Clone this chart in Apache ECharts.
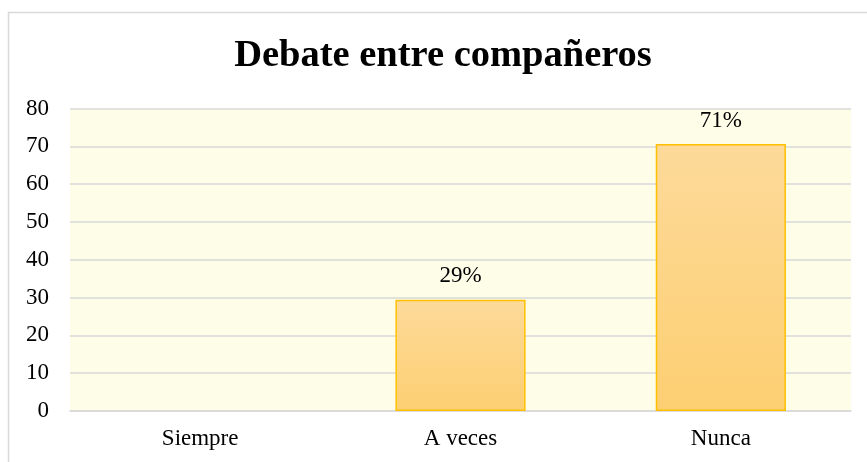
<!DOCTYPE html>
<html>
<head>
<meta charset="utf-8">
<script src="https://cdn.jsdelivr.net/npm/echarts@6/dist/echarts.min.js"></script>
<style>
  html, body { margin: 0; padding: 0; background: #fff; }
  #chart { width: 867px; height: 462px; }
</style>
</head>
<body>
<div id="chart"></div>
<script>
const titleText = 'Debate entre compañeros';
const categories = ['Siempre', 'A veces', 'Nunca'];
const values = [0, 29.4, 70.6];
const labels = ['', '29%', '71%'];

const chart = echarts.init(document.getElementById('chart'));
const serif = '"Liberation Serif", "Times New Roman", serif';

chart.setOption({
  animation: false,
  graphic: [{
    type: 'rect',
    shape: { x: 8.5, y: 12.5, width: 900, height: 500 },
    style: { fill: 'none', stroke: '#D9D9D9', lineWidth: 1.5 },
    z: -1
  }, {
    type: 'text',
    x: 443, y: 56,
    style: {
      text: titleText,
      font: 'bold 38.5px ' + serif,
      fill: '#000',
      textAlign: 'center',
      textVerticalAlign: 'middle'
    }
  }],
  grid: {
    left: 70, right: 16, top: 108.5, bottom: 51,
    show: true, backgroundColor: '#FEFDE8', borderWidth: 0
  },
  xAxis: {
    type: 'category',
    data: categories,
    axisLine: { lineStyle: { color: '#D9D9D9', width: 1.5 } },
    axisTick: { show: false },
    axisLabel: { fontFamily: serif, fontSize: 23, color: '#000', margin: 16 }
  },
  yAxis: {
    type: 'value',
    min: 0, max: 80, interval: 10,
    axisLine: { show: false },
    axisTick: { show: false },
    splitLine: { lineStyle: { color: '#D9D9D9', width: 1.5 } },
    axisLabel: { fontFamily: serif, fontSize: 23, color: '#000', margin: 21 }
  },
  series: [{
    type: 'bar',
    data: values.map(v => v === 0 ? { value: v, itemStyle: { borderWidth: 0 } } : v),
    barWidth: '50%',
    itemStyle: {
      color: new echarts.graphic.LinearGradient(0, 0, 0, 1, [
        { offset: 0, color: '#FDDA9A' },
        { offset: 1, color: '#FDCF72' }
      ]),
      borderColor: '#FFC000',
      borderWidth: 1.5
    },
    label: {
      show: true,
      position: 'top',
      distance: 12,
      fontFamily: serif,
      fontSize: 23,
      color: '#000',
      formatter: p => labels[p.dataIndex]
    }
  }]
});
</script>
</body>
</html>
